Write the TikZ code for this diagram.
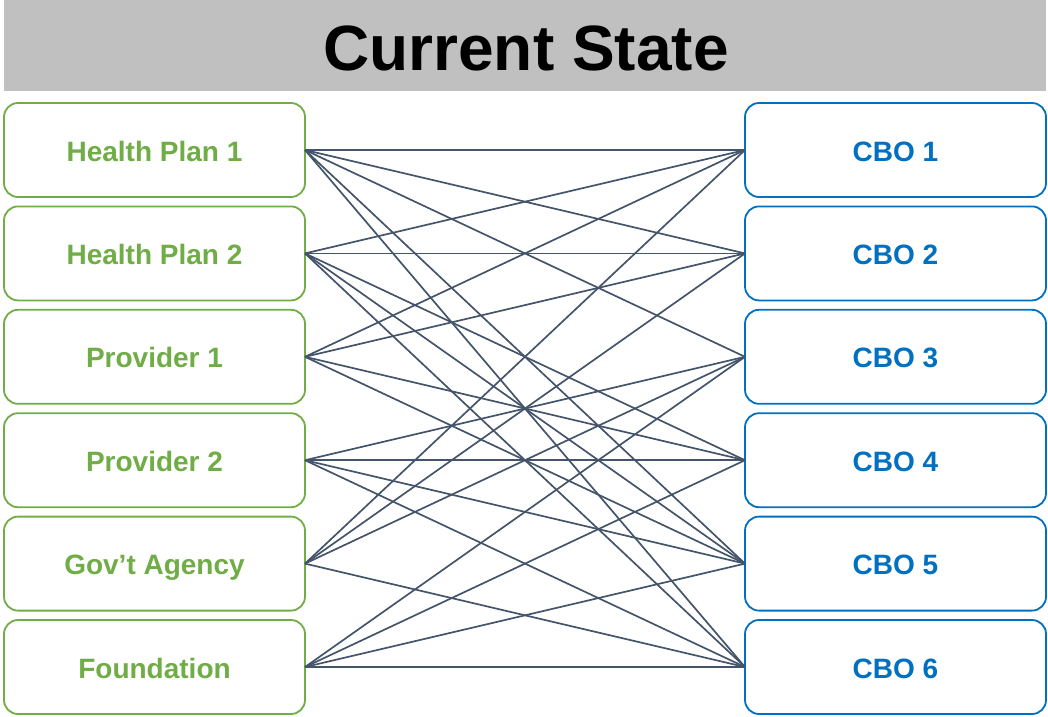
\documentclass[tikz,border=0pt]{standalone}
\usepackage{fontspec}
\setmainfont{Liberation Sans}
\definecolor{hgreen}{HTML}{70AD47}
\definecolor{cblue}{HTML}{0070C0}
\definecolor{lnk}{HTML}{44546A}
\definecolor{barg}{HTML}{C0C0C0}
\begin{document}
\begin{tikzpicture}[x=1pt,y=-1pt,
  boxbase/.style={line width=1.8pt, rounded corners=14pt, minimum width=301pt,
    minimum height=94pt, inner sep=0pt, outer sep=0pt, fill=white,
    font=\fontsize{28}{30}\selectfont\bfseries, text height=22pt, text depth=0pt},
  lbox/.style={boxbase, draw=hgreen, text=hgreen},
  rbox/.style={boxbase, draw=cblue, text=cblue},
  link/.style={draw=lnk, line width=1.7pt}]
\useasboundingbox (0,0) rectangle (1048,716);
\fill[barg] (4,0) rectangle (1046,90.5);
\node[anchor=base, inner sep=0pt, font=\fontsize{64}{70}\selectfont\bfseries] (title) at (526,70) {Current State};
\foreach \i/\t in {1/Health Plan 1, 2/Health Plan 2, 3/Provider 1, 4/Provider 2, 5/Gov’t Agency, 6/Foundation}
  \node[lbox] (L\i) at (154.5,{150+103.4*(\i-1)}) {\t};
\foreach \i in {1,...,6}
  \node[rbox] (R\i) at (895.5,{150+103.4*(\i-1)}) {CBO \i};
\foreach \a/\b in {1/1,1/2,1/3,1/5,1/6,
                   2/1,2/2,2/4,2/5,2/6,
                   3/1,3/2,3/4,3/5,
                   4/3,4/4,4/5,4/6,
                   5/1,5/2,5/3,5/6,
                   6/3,6/4,6/5,6/6}
  \draw[link] (L\a.east) -- (R\b.west);
\end{tikzpicture}
\end{document}
